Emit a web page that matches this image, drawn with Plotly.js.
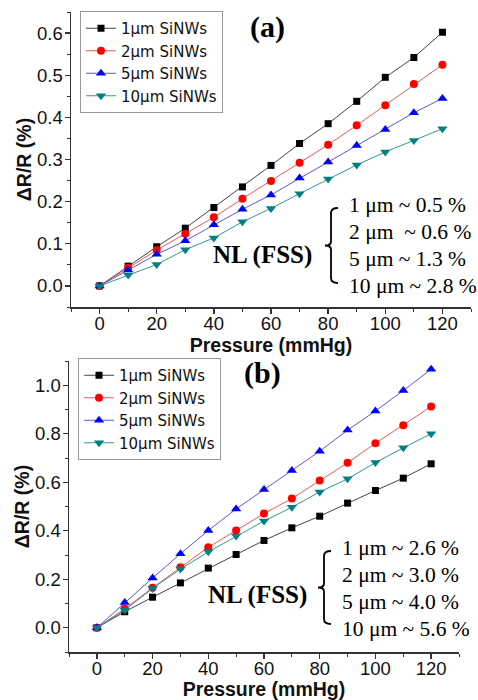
<!DOCTYPE html>
<html><head><meta charset="utf-8">
<script src="https://cdn.plot.ly/plotly-3.0.1.min.js"></script>
<style>html,body{margin:0;padding:0;background:#fff}</style>
</head><body><div id="chart" style="width:478px;height:700px"></div>
<script>
const pressure = [0,10,20,30,40,50,60,70,80,90,100,110,120];
const seriesNames = ['1\u03bcm SiNWs','2\u03bcm SiNWs','5\u03bcm SiNWs','10\u03bcm SiNWs'];
// panel (a)
const a_1um  = [0,0.047,0.093,0.137,0.186,0.235,0.286,0.338,0.385,0.438,0.495,0.542,0.602];
const a_2um  = [0,0.043,0.085,0.124,0.163,0.207,0.249,0.292,0.335,0.381,0.429,0.479,0.525];
const a_5um  = [0,0.038,0.075,0.107,0.145,0.182,0.216,0.256,0.294,0.333,0.371,0.411,0.445];
const a_10um = [0,0.026,0.051,0.086,0.114,0.152,0.184,0.219,0.254,0.287,0.318,0.345,0.373];
// panel (b)
const b_1um  = [0,0.066,0.126,0.185,0.246,0.302,0.360,0.412,0.460,0.514,0.566,0.617,0.676];
const b_2um  = [0,0.078,0.165,0.250,0.332,0.401,0.471,0.533,0.607,0.680,0.761,0.835,0.912];
const b_5um  = [0,0.104,0.205,0.305,0.401,0.490,0.570,0.648,0.728,0.815,0.894,0.978,1.066];
const b_10um = [0,0.073,0.162,0.242,0.313,0.378,0.440,0.497,0.560,0.614,0.681,0.742,0.800];
const nlA = ['1 \u03bcm ~ 0.5 %','2 \u03bcm \u00a0~ 0.6 %','5 \u03bcm ~ 1.3 %','10 \u03bcm ~ 2.8 %'];
const nlB = ['1 \u03bcm ~ 2.6 %','2 \u03bcm ~ 3.0 %','5 \u03bcm ~ 4.0 %','10 \u03bcm ~ 5.6 %'];

const W = 478, H = 700;
const px = x => x / W, py = y => 1 - y / H;

const styles = [
  {mc:'#000000', lc:'#444444', sym:'square', size:7},
  {mc:'#ff0000', lc:'#f05858', sym:'circle', size:8},
  {mc:'#0000ff', lc:'#5858d8', sym:'triangle-up', size:9},
  {mc:'#008080', lc:'#309a90', sym:'triangle-down', size:9}
];
const dataA = [a_1um, a_2um, a_5um, a_10um];
const dataB = [b_1um, b_2um, b_5um, b_10um];
const traces = [];
dataA.forEach((ys,i)=>traces.push({x:pressure,y:ys,name:seriesNames[i],type:'scatter',mode:'lines+markers',
  xaxis:'x',yaxis:'y',legend:'legend',line:{color:styles[i].lc,width:1},
  marker:{color:styles[i].mc,symbol:styles[i].sym,size:styles[i].size}}));
dataB.forEach((ys,i)=>traces.push({x:pressure,y:ys,name:seriesNames[i],type:'scatter',mode:'lines+markers',
  xaxis:'x2',yaxis:'y2',legend:'legend2',line:{color:styles[i].lc,width:1},
  marker:{color:styles[i].mc,symbol:styles[i].sym,size:styles[i].size}}));

const sans = 'Liberation Sans, Arial, sans-serif';
const tickFont = {family:sans, size:18.5, color:'#111'};
const titleFont = {family:sans, size:19.5, color:'#111', weight:'bold'};
function xax(domain, anchor){
  return {domain, anchor, range:[-10,130], dtick:20, tick0:0, ticks:'outside', ticklen:5, tickwidth:1.3,
    tickcolor:'#333', showline:true, linecolor:'#333', linewidth:1.5, showgrid:false, zeroline:false,
    tickfont:tickFont, ticklabelstandoff:-6, title:{text:'Pressure (mmHg)', font:titleFont, standoff:5},
    minor:{dtick:10, ticks:'outside', ticklen:3, tickcolor:'#333', tickwidth:1}};
}
function yax(domain, anchor, range, dtick, mdt){
  return {domain, anchor, range, dtick, tick0:0, ticks:'outside', ticklen:5, tickwidth:1.3,
    tickcolor:'#333', showline:true, linecolor:'#333', linewidth:1.5, showgrid:false, zeroline:false,
    tickfont:tickFont, ticklabelstandoff:-2, tickformat:'.1f', title:{text:'\u0394R/R (%)', font:titleFont, standoff:0},
    minor:{dtick:mdt, ticks:'outside', ticklen:3, tickcolor:'#333', tickwidth:1}};
}
const legendFont = {family:'DejaVu Sans, sans-serif', size:15, color:'#111'};
const layout = {
  width:W, height:H, margin:{l:0,r:0,t:0,b:0}, paper_bgcolor:'#fff', plot_bgcolor:'rgba(0,0,0,0)',
  xaxis: xax([px(71), px(471)], 'y'),
  yaxis: yax([py(307), py(12)], 'x', [-0.05,0.65], 0.1, 0.05),
  xaxis2: xax([px(69), px(459)], 'y2'),
  yaxis2: yax([py(652), py(361)], 'x2', [-0.1,1.1], 0.2, 0.1),
  legend: {x:px(80), y:py(11), xanchor:'left', yanchor:'top', bgcolor:'#fff', bordercolor:'#999', borderwidth:1,
    font:legendFont, tracegroupgap:0},
  legend2: {x:px(78), y:py(358), xanchor:'left', yanchor:'top', bgcolor:'#fff', bordercolor:'#999', borderwidth:1,
    font:legendFont, tracegroupgap:0},
  showlegend:true,
  annotations: [],
  shapes: []
};
const serif = 'Liberation Serif, Times New Roman, serif';
function panelText(label, lx, ly, nlx, nly, bx, by0, by1, tx, ty0, lines){
  layout.annotations.push({xref:'paper',yref:'paper',x:px(lx),y:py(ly),xanchor:'center',yanchor:'middle',
    text:'<b>'+label+'</b>',showarrow:false,font:{family:serif,size:30,color:'#000'}});
  layout.annotations.push({xref:'paper',yref:'paper',x:px(nlx),y:py(nly),text:'<b>NL (FSS)</b>',showarrow:false,
    xanchor:'left',yanchor:'middle',font:{family:serif,size:25,color:'#000'}});
  lines.forEach((t,i)=>layout.annotations.push({xref:'paper',yref:'paper',x:px(tx),y:py(ty0+i*27),text:t,
    showarrow:false,xanchor:'left',yanchor:'middle',font:{family:serif,size:21.5,color:'#000'}}));
  const ym = (by0+by1)/2;
  const p = (x,y)=>px(x).toFixed(5)+','+py(y).toFixed(5);
  const path = 'M'+p(bx+7,by0)+' Q'+p(bx,by0)+' '+p(bx,by0+5)+' L'+p(bx,ym-4)+' Q'+p(bx,ym)+' '+p(bx-6,ym)+
    ' Q'+p(bx,ym)+' '+p(bx,ym+4)+' L'+p(bx,by1-5)+' Q'+p(bx,by1)+' '+p(bx+7,by1);
  layout.shapes.push({type:'path',xref:'paper',yref:'paper',path,line:{color:'#000',width:1.8}});
}
panelText('(a)', 267, 27, 211, 255, 331, 208, 283, 347, 205, nlA);
panelText('(b)', 262, 373, 206, 595, 324, 551, 624, 340, 548, nlB);

Plotly.newPlot('chart', traces, layout, {displayModeBar:false, staticPlot:true});
</script></body></html>
